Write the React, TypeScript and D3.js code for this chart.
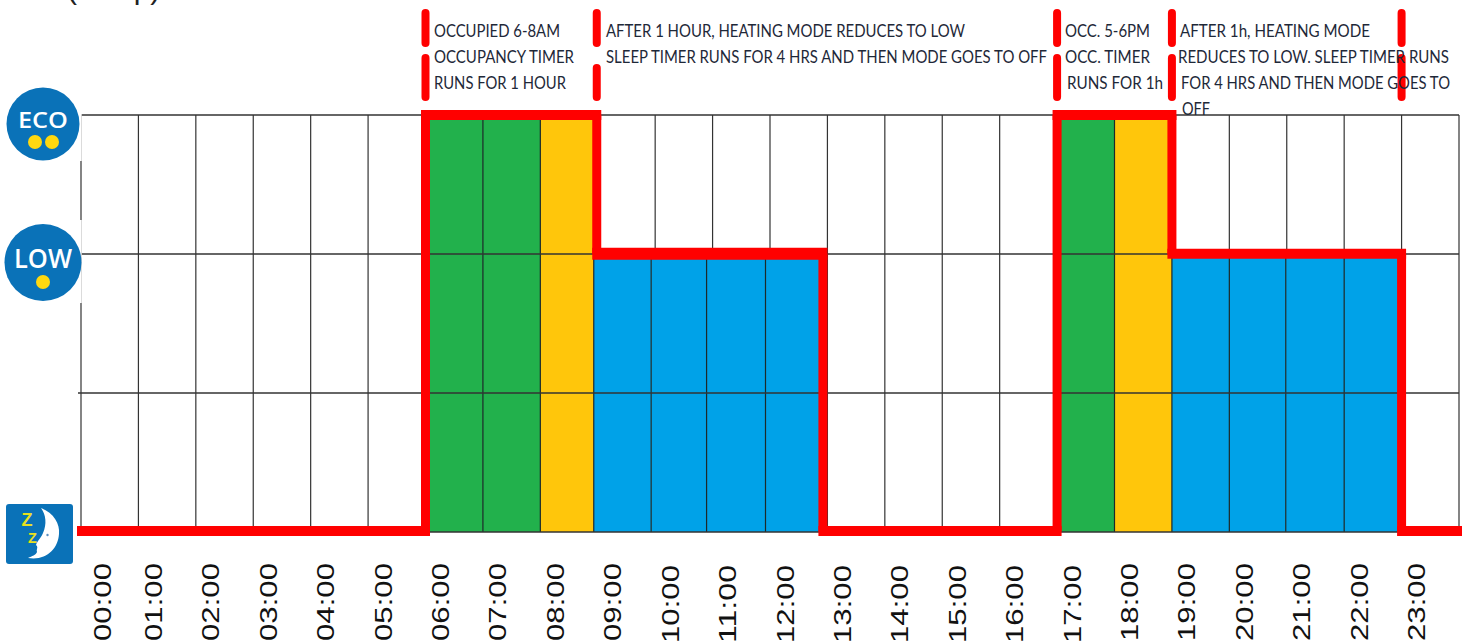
import React from "react";
import * as d3 from "d3";

const hours = ["00:00","01:00","02:00","03:00","04:00","05:00","06:00","07:00","08:00","09:00","10:00","11:00","12:00","13:00","14:00","15:00","16:00","17:00","18:00","19:00","20:00","21:00","22:00","23:00"];
// 0 = sleep, 2 = low, 3 = eco
const modeLevels = [0,0,0,0,0,0,3,3,3,2,2,2,2,0,0,0,0,3,3,2,2,2,2,0];
// o = occupied, t = occupancy timer, s = sleep timer, n = none
const hourStates = "nnnnnnootssssnnnnotssssn".split("");
const levelTicks = [0, 1, 2, 3];
const notes = [
  "OCCUPIED 6-8AM","OCCUPANCY TIMER","RUNS FOR 1 HOUR",
  "AFTER 1 HOUR, HEATING MODE REDUCES TO LOW","SLEEP TIMER RUNS FOR 4 HRS AND THEN MODE GOES TO OFF",
  "OCC. 5-6PM","OCC. TIMER","RUNS FOR 1h",
  "AFTER 1h, HEATING MODE","REDUCES TO LOW. SLEEP TIMER RUNS","FOR 4 HRS AND THEN MODE GOES TO","OFF",
];
const markerHours = [6, 9, 17, 19, 23];

const noteLayout: [number, number, number][] = [
  [434,37,126],[434,63,140],[434,89,132],
  [606,37,359],[606,63,441],
  [1065,37,85],[1065,63,85],[1067,89,96],
  [1180,37,190],[1178,63,271],[1181,89,269],[1182,115,28],
];
// the reference was hand drawn: small nudges of its blocks and of its red line, by hour
const blockNudge: Record<number, number> = { 9:-4, 10:-4, 11:-6, 12:-4.5, 13:-7.5, 21:-1, 23:-1.5 };
const lineNudge: Record<number, number> = { 9:-1, 13:-4.5 };
const stateColor: Record<string,string> = { o:"#22B14C", t:"#FFC60B", s:"#00A2E8" };
const RED = "#FF0000";
const BLUE = "#0A72B8";
const YEL = "#FFD80F";
const GRID = "#333";

const x = d3.scaleLinear().domain([0, 24]).range([81, 1459]);
const y = d3.scaleLinear().domain([0, 3]).range([531, 115]);
const gridY = d3.scaleLinear().domain([0, 3]).range([532, 115]);
const blockX = (h: number) => x(h) + (blockNudge[h] ?? 0);
const lineX = (h: number) => x(h) + (lineNudge[h] ?? 0);

export default function App() {
  // runs of equal level give the horizontal strokes; level changes give the vertical ones
  const runs: { from: number; to: number; level: number }[] = [];
  modeLevels.forEach((v, i) => {
    const last = runs[runs.length - 1];
    if (last && last.level === v) last.to = i + 1;
    else runs.push({ from: i, to: i + 1, level: v });
  });
  const seg = d3.line<[number, number]>();
  const sans = "'Liberation Sans', Arial, sans-serif";
  return (
    <svg width={1465} height={644} style={{ position: "absolute", left: 0, top: 0, background: "#fff" }}>
      <text x={67} y={-1} fontFamily={sans} fontSize={30} fill="#222">(Temp)</text>

      {d3.range(0, 25).map(i => (
        <line key={i} x1={x(i)} x2={x(i)} y1={gridY(3)} y2={gridY(0)} stroke={GRID} strokeWidth={1.2} />
      ))}

      {hours.map((h, i) => hourStates[i] !== "n" && (
        <rect key={h} x={blockX(i)} width={blockX(i + 1) - blockX(i)} y={gridY(modeLevels[i])} height={gridY(0) - gridY(modeLevels[i])} fill={stateColor[hourStates[i]]} />
      ))}
      {hours.map((h, i) => hourStates[i] !== "n" && i > 0 && hourStates[i - 1] !== "n" && (
        <line key={h} x1={blockX(i)} x2={blockX(i)} y1={gridY(modeLevels[i])} y2={gridY(0)} stroke="#1c2a2a" strokeWidth={1.2} />
      ))}

      {levelTicks.map(t => (
        <line key={t} x1={t === 1 ? 78 : 81} x2={1459} y1={gridY(t)} y2={gridY(t)} stroke={GRID} strokeWidth={1.3} />
      ))}

      <g fill="none" stroke={RED} strokeLinecap="butt">
        {runs.map((r, i) => (
          <path key={i} d={seg([[lineX(r.from) - (i === 0 ? 4 : 4.5), y(r.level)], [lineX(r.to) + (i === runs.length - 1 ? 3 : 4.5), y(r.level)]]) as string}
            strokeWidth={r.from === 9 ? 12 : 10} />
        ))}
        {runs.slice(1).map((r, i) => (
          <path key={i} d={seg([[lineX(r.from), y(runs[i].level)], [lineX(r.from), y(r.level)]]) as string} strokeWidth={9} />
        ))}
      </g>

      {markerHours.map(m => {
        const lower = m === 9 ? 65 : 55;
        return (
          <g key={m} stroke={RED} strokeWidth={8} strokeLinecap="round">
            <line x1={lineX(m)} x2={lineX(m)} y1={13} y2={43} />
            <line x1={lineX(m)} x2={lineX(m)} y1={lower + 3} y2={97} />
          </g>
        );
      })}

      {notes.map((n, i) => (
        <text key={i} x={noteLayout[i][0]} y={noteLayout[i][1]} textLength={noteLayout[i][2]} lengthAdjust="spacingAndGlyphs"
          fontFamily="Lato, sans-serif" fontSize={17} fill="#1E2838">{n}</text>
      ))}

      {hours.map((h, i) => {
        const cx = i === 0 ? x(0) + 29.5 : x(i) + 23.5;
        const base = i >= 10 && i <= 17 ? 643 : 641;
        return (
          <text key={h} transform={`translate(${cx},${base}) rotate(-90)`} textLength={78} lengthAdjust="spacingAndGlyphs"
            fontFamily={sans} fontSize={24} fill="#111">{h}</text>
        );
      })}

      <g>
        <rect x={0} y={84} width={81.7} height={77} fill="#fff" />
        <circle cx={43} cy={124} r={36.5} fill={BLUE} />
        <text x={18} y={128} textLength={50} lengthAdjust="spacingAndGlyphs" fontFamily="'Open Sans', sans-serif" fontWeight={600} fontSize={22} fill="#fff">ECO</text>
        <circle cx={35} cy={142} r={7} fill={YEL} />
        <circle cx={52} cy={142} r={7} fill={YEL} />
      </g>
      <g>
        <rect x={0} y={220} width={81.7} height={83} fill="#fff" />
        <circle cx={43} cy={262.5} r={38.5} fill={BLUE} />
        <text x={14} y={268} textLength={58} lengthAdjust="spacingAndGlyphs" fontFamily="'Open Sans', sans-serif" fontWeight={600} fontSize={27} fill="#fff">LOW</text>
        <circle cx={43} cy={282} r={7} fill={YEL} />
      </g>
      <g>
        <rect x={6} y={504} width={67} height={60} rx={3} fill={BLUE} />
        <path d="M41,508 C54,513 60,524 59,534 C58,549 46,561 28,558 C32,556 36,555 37,552 C36,550 38,548 37,546 C35,545 37,543 38,541 C40,538 42,536 43,533 C47,524 46,515 41,508 Z" fill="#fff" />
        <circle cx={47.5} cy={535} r={1.2} fill="#5a8fc0" />
        <text x={21.5} y={526} fontFamily={sans} fontWeight={700} fontSize={18} fill="#E8E020">Z</text>
        <text x={28} y={543} fontFamily={sans} fontWeight={700} fontSize={14.5} fill="#E8E020">Z</text>
      </g>
    </svg>
  );
}
